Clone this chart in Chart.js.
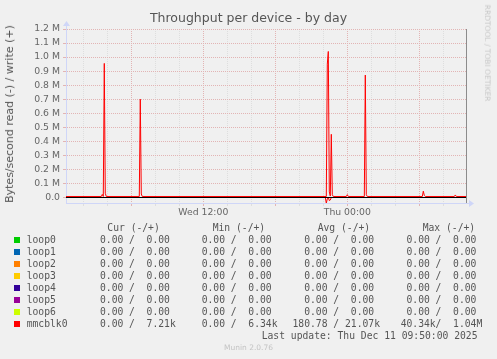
<!DOCTYPE html>
<html>
<head>
<meta charset="utf-8">
<script src="https://cdn.jsdelivr.net/npm/chart.js@4.4.1/dist/chart.umd.min.js"></script>
<style>
body{margin:0;background:#f0f0f0;}
#wrap{position:relative;width:497px;height:359px;background:#f0f0f0;overflow:hidden;font-family:"DejaVu Sans",sans-serif;color:#666;}
#graph{position:absolute;left:0;top:0;}
.t{position:absolute;white-space:pre;line-height:12px;}
.mono{font-family:"DejaVu Sans Mono",monospace;font-size:9.7px;color:#555;}
.box{position:absolute;width:6px;height:6px;}
</style>
</head>
<body>
<div id="wrap">
<canvas id="graph" width="497" height="359"></canvas>
<div id="title" class="t" style="left:0;width:497px;text-align:center;top:12px;font-size:12.5px;color:#555;">Throughput per device - by day</div>
<div id="ytitle" class="t" style="left:10px;top:114px;font-size:11px;color:#555;transform:translate(-50%,-50%) rotate(-90deg);">Bytes/second read (-) / write (+)</div>
<div id="mark" class="t" style="left:487px;top:53px;font-size:7.5px;color:#c8c8c8;transform:translate(-50%,-50%) rotate(90deg);">RRDTOOL / TOBI OETIKER</div>
<div id="munin" class="t" style="left:0;width:497px;text-align:center;top:342px;font-size:7.5px;color:#c4c4c4;">Munin 2.0.76</div>
<div id="legend"></div>
</div>
<script>
// ---------- data ----------
// time axis in hours since Wed 00:00
const xStart = 0.56;
const xEnd = 33.89;
const tickHours = [2, 4, 6, 8, 10, 12, 14, 16, 18, 20, 22, 24, 26, 28, 30, 32];
const tickLabels = ["", "", "", "", "", "Wed 12:00", "", "", "", "", "", "Thu 00:00", "", "", "", ""];
const yTicks = [0, 100000, 200000, 300000, 400000, 500000, 600000, 700000, 800000, 900000, 1000000, 1100000, 1200000];
const yMin = -39200;
const yMax = 1200000;

// mmcblk0 write (bytes/s), plotted up
const writeHours = [0.56, 3.5, 3.583, 3.667, 3.75, 3.833, 3.917, 6.667, 6.75, 6.833, 6.917,
  22.25, 22.333, 22.417, 22.5, 22.583, 22.667, 22.75, 22.833, 23.917, 24.0, 24.083,
  25.417, 25.5, 25.583, 25.667, 30.25, 30.333, 30.417, 30.5, 32.917, 33.0, 33.083, 33.89];
const writeBytes = [7200, 7200, 22000, 7200, 955000, 30000, 7200, 7200, 700000, 25000, 7200,
  7200, 950000, 1040000, 40000, 10000, 450000, 20000, 7200, 7200, 20000, 7200,
  7200, 872000, 20000, 7200, 7200, 45000, 15000, 7200, 7200, 18000, 7200, 7200];

// mmcblk0 read (bytes/s), plotted down
const readHours = [0.56, 22.167, 22.25, 22.333, 22.417, 22.5, 22.583, 22.667, 33.89];
const readBytes = [0, 0, 40340, 10000, 0, 22000, 18000, 0, 0];

const zeroHours = [xStart, xEnd];

// legend table
const deviceNames = ["loop0", "loop1", "loop2", "loop3", "loop4", "loop5", "loop6", "mmcblk0"];
const deviceColors = ["#00cc00", "#0066b3", "#ff8000", "#ffcc00", "#330099", "#990099", "#ccff00", "#ff0000"];
const curCol = ["  0.00 /  0.00", "  0.00 /  0.00", "  0.00 /  0.00", "  0.00 /  0.00", "  0.00 /  0.00", "  0.00 /  0.00", "  0.00 /  0.00", "  0.00 /  7.21k"];
const minCol = ["  0.00 /  0.00", "  0.00 /  0.00", "  0.00 /  0.00", "  0.00 /  0.00", "  0.00 /  0.00", "  0.00 /  0.00", "  0.00 /  0.00", "  0.00 /  6.34k"];
const avgCol = ["  0.00 /  0.00", "  0.00 /  0.00", "  0.00 /  0.00", "  0.00 /  0.00", "  0.00 /  0.00", "  0.00 /  0.00", "  0.00 /  0.00", "180.78 / 21.07k"];
const maxCol = ["  0.00 /  0.00", "  0.00 /  0.00", "  0.00 /  0.00", "  0.00 /  0.00", "  0.00 /  0.00", "  0.00 /  0.00", "  0.00 /  0.00", " 40.34k/  1.04M"];
const headers = ["Cur (-/+)", "Min (-/+)", "Avg (-/+)", "Max (-/+)"];
const lastUpdate = "Last update: Thu Dec 11 09:50:00 2025";

// ---------- legend ----------
const legend = document.getElementById("legend");
function addText(txt, x, top) {
  const d = document.createElement("div");
  d.className = "t mono";
  d.style.left = x + "px";
  d.style.top = top + "px";
  d.textContent = txt;
  legend.appendChild(d);
}
const headX = [107.3, 212.7, 317.7, 422.7];
headers.forEach((h, i) => addText(h, headX[i], 222));
const colX = [88.3, 190, 292.5, 394.8];
deviceNames.forEach((name, i) => {
  const top = 234 + i * 12;
  const b = document.createElement("div");
  b.className = "box";
  b.style.left = "14px";
  b.style.top = (237 + i * 12) + "px";
  b.style.background = deviceColors[i];
  legend.appendChild(b);
  addText(name, 26.7, top);
  [curCol, minCol, avgCol, maxCol].forEach((col, c) => addText(col[i], colX[c], top));
});
addText(lastUpdate, 261.7, 234 + 8 * 12);

// ---------- chart ----------
const MGRID = "#e2b4b4";
const GRID = "#dedede";
const AXIS = "#cfd6f8";

const arrows = {
  id: "arrows",
  afterDraw(chart) {
    const {ctx, chartArea: a} = chart;
    ctx.save();
    ctx.strokeStyle = AXIS;
    ctx.fillStyle = AXIS;
    ctx.lineWidth = 1;
    ctx.beginPath();
    ctx.moveTo(a.left + 0.5, a.top);
    ctx.lineTo(a.left + 0.5, a.top - 4);
    ctx.moveTo(a.right, a.bottom + 0.5);
    ctx.lineTo(a.right + 4, a.bottom + 0.5);
    ctx.stroke();
    ctx.beginPath();
    ctx.moveTo(a.left + 0.5, a.top - 8);
    ctx.lineTo(a.left - 3, a.top - 3);
    ctx.lineTo(a.left + 4, a.top - 3);
    ctx.closePath();
    ctx.fill();
    ctx.beginPath();
    ctx.moveTo(a.right + 8, a.bottom + 0.5);
    ctx.lineTo(a.right + 3, a.bottom - 3);
    ctx.lineTo(a.right + 3, a.bottom + 4);
    ctx.closePath();
    ctx.fill();
    ctx.restore();
  }
};

const lineStyle = {borderWidth: 1, pointRadius: 0, tension: 0, fill: false};

new Chart(document.getElementById("graph"), {
  type: "line",
  data: {
    datasets: [
      Object.assign({label: "mmcblk0 write", order: 0, borderColor: "#ff0000",
        data: writeHours.map((h, i) => ({x: h, y: writeBytes[i]}))}, lineStyle),
      Object.assign({label: "zero", order: 1, borderColor: "#000000",
        data: zeroHours.map(h => ({x: h, y: 0}))}, lineStyle),
      Object.assign({label: "mmcblk0 read", order: 2, borderColor: "#ff0000",
        data: readHours.map((h, i) => ({x: h, y: -readBytes[i]}))}, lineStyle)
    ]
  },
  options: {
    responsive: false,
    animation: false,
    layout: {padding: {top: 29, bottom: 136, left: 0, right: 0}},
    plugins: {legend: {display: false}, tooltip: {enabled: false}},
    scales: {
      x: {
        type: "linear",
        min: xStart,
        max: xEnd,
        afterFit: s => { s.height = 20; },
        afterBuildTicks: s => { s.ticks = tickHours.map(v => ({value: v})); },
        ticks: {
          autoSkip: false, maxRotation: 0, padding: 1, color: "#666",
          font: {family: "DejaVu Sans", size: 9.3},
          callback: v => tickLabels[tickHours.indexOf(v)] || ""
        },
        grid: {
          color: c => (c.tick && c.tick.value % 6 === 0) ? MGRID : GRID,
          tickLength: 3
        },
        border: {color: AXIS, dash: [1, 1]}
      },
      y: {
        min: yMin,
        max: yMax,
        afterFit: s => { s.width = 66; },
        afterBuildTicks: s => { s.ticks = yTicks.map(v => ({value: v})); },
        ticks: {
          padding: 3, color: "#666",
          font: {family: "DejaVu Sans", size: 9.3},
          callback: v => v === 0 ? "0.0" : (v / 1e6).toFixed(1) + " M"
        },
        grid: {color: MGRID, tickLength: 3},
        border: {color: AXIS, dash: [1, 1]}
      },
      yr: {
        position: "right",
        afterFit: s => { s.width = 31; },
        ticks: {display: false},
        grid: {display: false},
        border: {color: "#8c8c8c"}
      }
    }
  },
  plugins: [arrows]
});
</script>
</body>
</html>
